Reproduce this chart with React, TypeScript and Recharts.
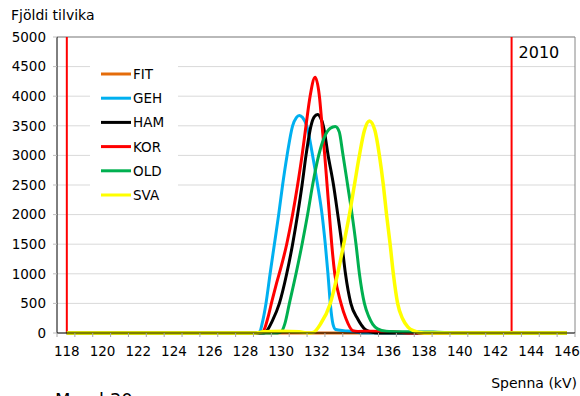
import React from 'react';
import { LineChart, Line, XAxis, YAxis, CartesianGrid, ReferenceLine } from 'recharts';

const FONT = '"DejaVu Sans", Verdana, sans-serif';

const SERIES_NAMES = ['FIT', 'GEH', 'HAM', 'KOR', 'OLD', 'SVA'];
const SERIES_COLORS = ['#E46C0A', '#00B0F0', '#000000', '#FF0000', '#00B050', '#FFFF00'];

const FIT = [[118, 0], [146, 0]];
const GEH = [[118, 0], [128.6, 0], [128.8, 20], [128.95, 180], [129.15, 500], [129.38, 1000], [129.62, 1500], [129.86, 2000], [130.08, 2500], [130.33, 3000], [130.64, 3500], [130.85, 3640], [131.02, 3675], [131.2, 3640], [131.43, 3500], [131.76, 3000], [132.04, 2500], [132.29, 2000], [132.47, 1500], [132.62, 1000], [132.75, 500], [132.9, 150], [133.05, 60], [133.5, 40], [134, 30], [134.5, 0], [146, 0]];
const HAM = [[118, 0], [129.0, 0], [129.15, 20], [129.5, 200], [129.9, 500], [130.31, 1000], [130.64, 1500], [130.92, 2000], [131.17, 2500], [131.39, 3000], [131.67, 3500], [131.85, 3650], [132.04, 3690], [132.2, 3640], [132.36, 3500], [132.63, 3000], [132.93, 2500], [133.17, 2000], [133.4, 1500], [133.6, 1000], [133.9, 500], [134.28, 240], [134.7, 60], [135.0, 20], [135.5, 0], [146, 0]];
const KOR = [[118, 0], [128.8, 0], [129.0, 30], [129.25, 250], [129.5, 560], [129.75, 850], [130.0, 1120], [130.31, 1500], [130.64, 2000], [130.92, 2500], [131.17, 3000], [131.39, 3500], [131.62, 4000], [131.9, 4320], [132.14, 4000], [132.29, 3500], [132.44, 3000], [132.57, 2500], [132.7, 2000], [132.83, 1500], [133.0, 1000], [133.35, 500], [133.63, 240], [134.0, 40], [134.3, 25], [135, 30], [136, 25], [136.8, 10], [137.2, 0], [146, 0]];
const OLD = [[118, 0], [129.8, 0], [130.0, 20], [130.2, 150], [130.46, 500], [130.83, 1000], [131.17, 1500], [131.48, 2000], [131.76, 2500], [132.1, 3000], [132.42, 3310], [132.75, 3460], [133.03, 3490], [133.25, 3400], [133.44, 3050], [133.72, 2500], [133.97, 2000], [134.19, 1500], [134.38, 1000], [134.66, 500], [134.9, 280], [135.12, 150], [135.4, 70], [135.87, 30], [137, 20], [138.5, 15], [140, 0], [146, 0]];
const SVA = [[118, 0], [128.5, 0], [129, 20], [130, 30], [131, 20], [131.55, 0], [131.8, 10], [132.2, 150], [132.75, 500], [133.16, 1000], [133.5, 1500], [133.82, 2000], [134.1, 2500], [134.38, 3000], [134.66, 3420], [134.94, 3580], [135.25, 3420], [135.5, 3000], [135.72, 2500], [135.9, 2000], [136.1, 1500], [136.28, 1000], [136.52, 500], [136.8, 240], [137.1, 100], [137.4, 40], [138, 0], [146, 0]];
const SERIES_DATA = [FIT, GEH, HAM, KOR, OLD, SVA];

const X_DOMAIN = [117.45, 146.45];
const X_LABELS = [118, 120, 122, 124, 126, 128, 130, 132, 134, 136, 138, 140, 142, 144, 146];
const X_MINOR = [117.45, 118.45, 119.45, 120.45, 121.45, 122.45, 123.45, 124.45, 125.45, 126.45, 127.45, 128.45, 129.45, 130.45, 131.45, 132.45, 133.45, 134.45, 135.45, 136.45, 137.45, 138.45, 139.45, 140.45, 141.45, 142.45, 143.45, 144.45, 145.45, 146.45];
const Y_TICKS = [0, 500, 1000, 1500, 2000, 2500, 3000, 3500, 4000, 4500, 5000];
const YEAR_LINES = [{ kv: 118, label: '' }, { kv: 142.9, label: '2010' }];

const XTick = (props: any) => {
  const { x, y, payload } = props;
  const v = payload.value;
  if (X_LABELS.includes(v)) {
    return (
      <text x={x} y={y + 23} textAnchor="middle" fontSize={13.5} fontFamily={FONT} fill="#000">
        {v}
      </text>
    );
  }
  return <line x1={x} x2={x} y1={y} y2={y + 4} stroke="#a6a6a6" strokeWidth={1} />;
};

const allXTicks = [...X_MINOR, ...X_LABELS].sort((a, b) => a - b);

export default function App() {
  return (
    <div style={{ position: 'absolute', left: 0, top: 0, width: 580, height: 396, background: '#fff', overflow: 'hidden' }}>
      <LineChart width={580} height={396} margin={{ top: 37, right: 5, bottom: 33, left: 0 }}>
        <CartesianGrid vertical={false} stroke="#d9d9d9" />
        <XAxis
          type="number"
          dataKey="kv"
          domain={X_DOMAIN}
          ticks={allXTicks}
          interval={0}
          tickSize={0}
          tickMargin={0}
          tickLine={false}
          tick={<XTick />}
          axisLine={{ stroke: '#000' }}
          height={30}
        />
        <YAxis
          type="number"
          domain={[0, 5000]}
          ticks={Y_TICKS}
          interval={0}
          width={57}
          tickSize={4}
          tickMargin={7}
          tickLine={{ stroke: '#bfbfbf' }}
          axisLine={{ stroke: '#000' }}
          tick={{ fontSize: 13.5, fontFamily: FONT, fill: '#000' }}
        />
        <ReferenceLine y={5000} stroke="#868686" />
        <ReferenceLine x={X_DOMAIN[1]} stroke="#868686" />
        {YEAR_LINES.map((r) => (
          <ReferenceLine
            key={r.kv}
            x={r.kv}
            stroke="#FF0000"
            strokeWidth={2}
            label={(p: any) =>
              r.label ? (
                <text x={p.viewBox.x + 7} y={p.viewBox.y + 21} fontSize={16} fontFamily={FONT} fill="#000">
                  {r.label}
                </text>
              ) : null
            }
          />
        ))}
        {SERIES_NAMES.map((name, i) => (
          <Line
            key={name}
            name={name}
            data={SERIES_DATA[i].map(([kv, n]) => ({ kv, n }))}
            dataKey="n"
            type="monotone"
            stroke={SERIES_COLORS[i]}
            strokeWidth={name === 'SVA' ? 3.5 : 3}
            dot={false}
            activeDot={false}
            isAnimationActive={false}
          />
        ))}
      </LineChart>
      <div style={{ position: 'absolute', left: 90, top: 58, width: 88, height: 148, background: '#fff' }}>
        <svg width={88} height={148}>
          {SERIES_NAMES.map((name, i) => (
            <g key={name}>
              <line x1={11} x2={41} y1={16 + i * 24.2} y2={16 + i * 24.2} stroke={SERIES_COLORS[i]} strokeWidth={3} />
              <text x={43} y={21 + i * 24.2} fontSize={13.5} fontFamily={FONT} fill="#000">
                {name}
              </text>
            </g>
          ))}
        </svg>
      </div>
      <svg width={580} height={396} style={{ position: 'absolute', left: 0, top: 0, pointerEvents: 'none' }}>
        <text x={11} y={20} fontSize={14} fontFamily={FONT} fill="#000">Fjöldi tilvika</text>
        <text x={577} y={388} textAnchor="end" fontSize={14} fontFamily={FONT} fill="#000">Spenna (kV)</text>
        <text x={55} y={406} fontSize={18} fontFamily={FONT} fill="#000">Mynd 30</text>
      </svg>
    </div>
  );
}
